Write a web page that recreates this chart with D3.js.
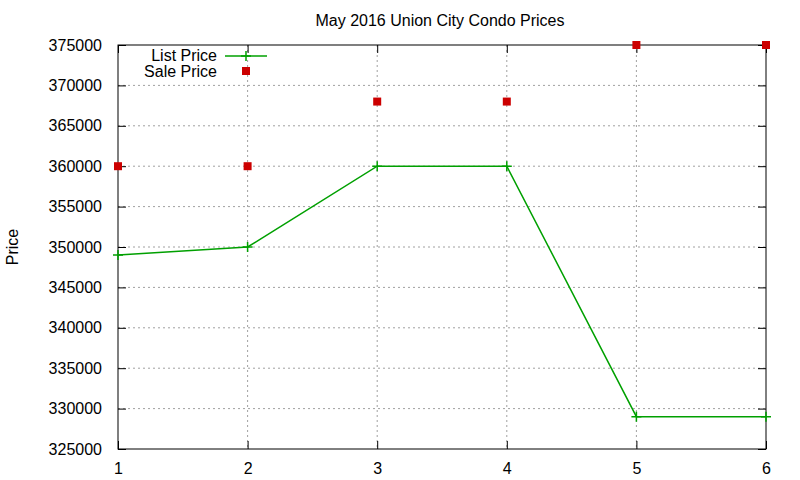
<!DOCTYPE html>
<html><head><meta charset="utf-8">
<script src="https://cdn.jsdelivr.net/npm/d3@7"></script>
<style>body{margin:0;background:#fff}text{font-family:"Liberation Sans",Arial,sans-serif;font-size:16px}</style>
</head><body><svg id="c" width="800" height="480"></svg>
<script>
const months = [1, 2, 3, 4, 5, 6];
const listPrice = [349000, 350000, 360000, 360000, 329000, 329000];
const salePrice = [360000, 360000, 368000, 368000, 375000, 375000];
const yTicks = d3.range(325000, 375001, 5000);

const m = {l: 118, r: 766, t: 45, b: 449};
const svg = d3.select('#c');
const x = d3.scaleLinear().domain([1, 6]).range([m.l, m.r]);
const y = d3.scaleLinear().domain([325000, 375000]).range([m.b, m.t]);

// grid
svg.append('g').selectAll('line').data(yTicks.slice(1, -1)).enter().append('line')
    .attr('x1', m.l).attr('x2', m.r).attr('y1', d => y(d)).attr('y2', d => y(d))
    .attr('stroke', '#a0a0a0').attr('stroke-dasharray', '2,3');
svg.append('g').selectAll('line').data(months.slice(1, -1)).enter().append('line')
    .attr('y1', m.t).attr('y2', m.b).attr('x1', d => x(d)).attr('x2', d => x(d))
    .attr('stroke', '#a0a0a0').attr('stroke-dasharray', '2,3');

// axes with inward ticks, mirrored
svg.append('g').attr('transform', `translate(${m.l},0)`)
    .call(d3.axisLeft(y).tickValues(yTicks).tickSize(-8).tickPadding(16).tickFormat(d3.format('d')));
svg.append('g').attr('transform', `translate(${m.r},0)`)
    .call(d3.axisRight(y).tickValues(yTicks).tickSize(-8).tickFormat(''));
svg.append('g').attr('transform', `translate(0,${m.b})`)
    .call(d3.axisBottom(x).tickValues(months).tickSize(-8).tickPadding(14).tickFormat(d3.format('d')));
svg.append('g').attr('transform', `translate(0,${m.t})`)
    .call(d3.axisTop(x).tickValues(months).tickSize(-8).tickFormat(''));
svg.selectAll('.domain').remove();
svg.selectAll('.tick text').attr('fill', '#000').style('font-size', '16px');
svg.selectAll('.tick line').attr('stroke', '#000');
svg.append('rect').attr('x', m.l).attr('y', m.t).attr('width', m.r - m.l).attr('height', m.b - m.t)
    .attr('fill', 'none').attr('stroke', '#000');

// list price line
const green = '#00a000';
svg.append('path').datum(months)
    .attr('d', d3.line().x(d => x(d)).y((d, i) => y(listPrice[i])))
    .attr('fill', 'none').attr('stroke', green).attr('stroke-width', 1.5);
const plus = (g, cx, cy) => g.append('path').attr('d', `M${cx-5},${cy}H${cx+5}M${cx},${cy-5}V${cy+5}`)
    .attr('stroke', green).attr('stroke-width', 1.5);
months.forEach((d, i) => plus(svg, x(d), y(listPrice[i])));

// sale price points
svg.append('g').selectAll('rect').data(months).enter().append('rect')
    .attr('x', d => x(d) - 4).attr('y', (d, i) => y(salePrice[i]) - 4)
    .attr('width', 8).attr('height', 8).attr('fill', '#cc0000');

// legend
svg.append('text').attr('x', 217).attr('y', 61).attr('text-anchor', 'end').text('List Price');
svg.append('line').attr('x1', 225).attr('x2', 267).attr('y1', 56).attr('y2', 56)
    .attr('stroke', green).attr('stroke-width', 1.5);
plus(svg, 246, 56);
svg.append('text').attr('x', 217).attr('y', 77).attr('text-anchor', 'end').text('Sale Price');
svg.append('rect').attr('x', 242).attr('y', 67).attr('width', 8).attr('height', 8).attr('fill', '#cc0000');

// titles
svg.append('text').attr('x', 440).attr('y', 26).attr('text-anchor', 'middle').text('May 2016 Union City Condo Prices');
svg.append('text').attr('transform', 'translate(18,247) rotate(-90)').attr('text-anchor', 'middle').text('Price');
</script></body></html>
